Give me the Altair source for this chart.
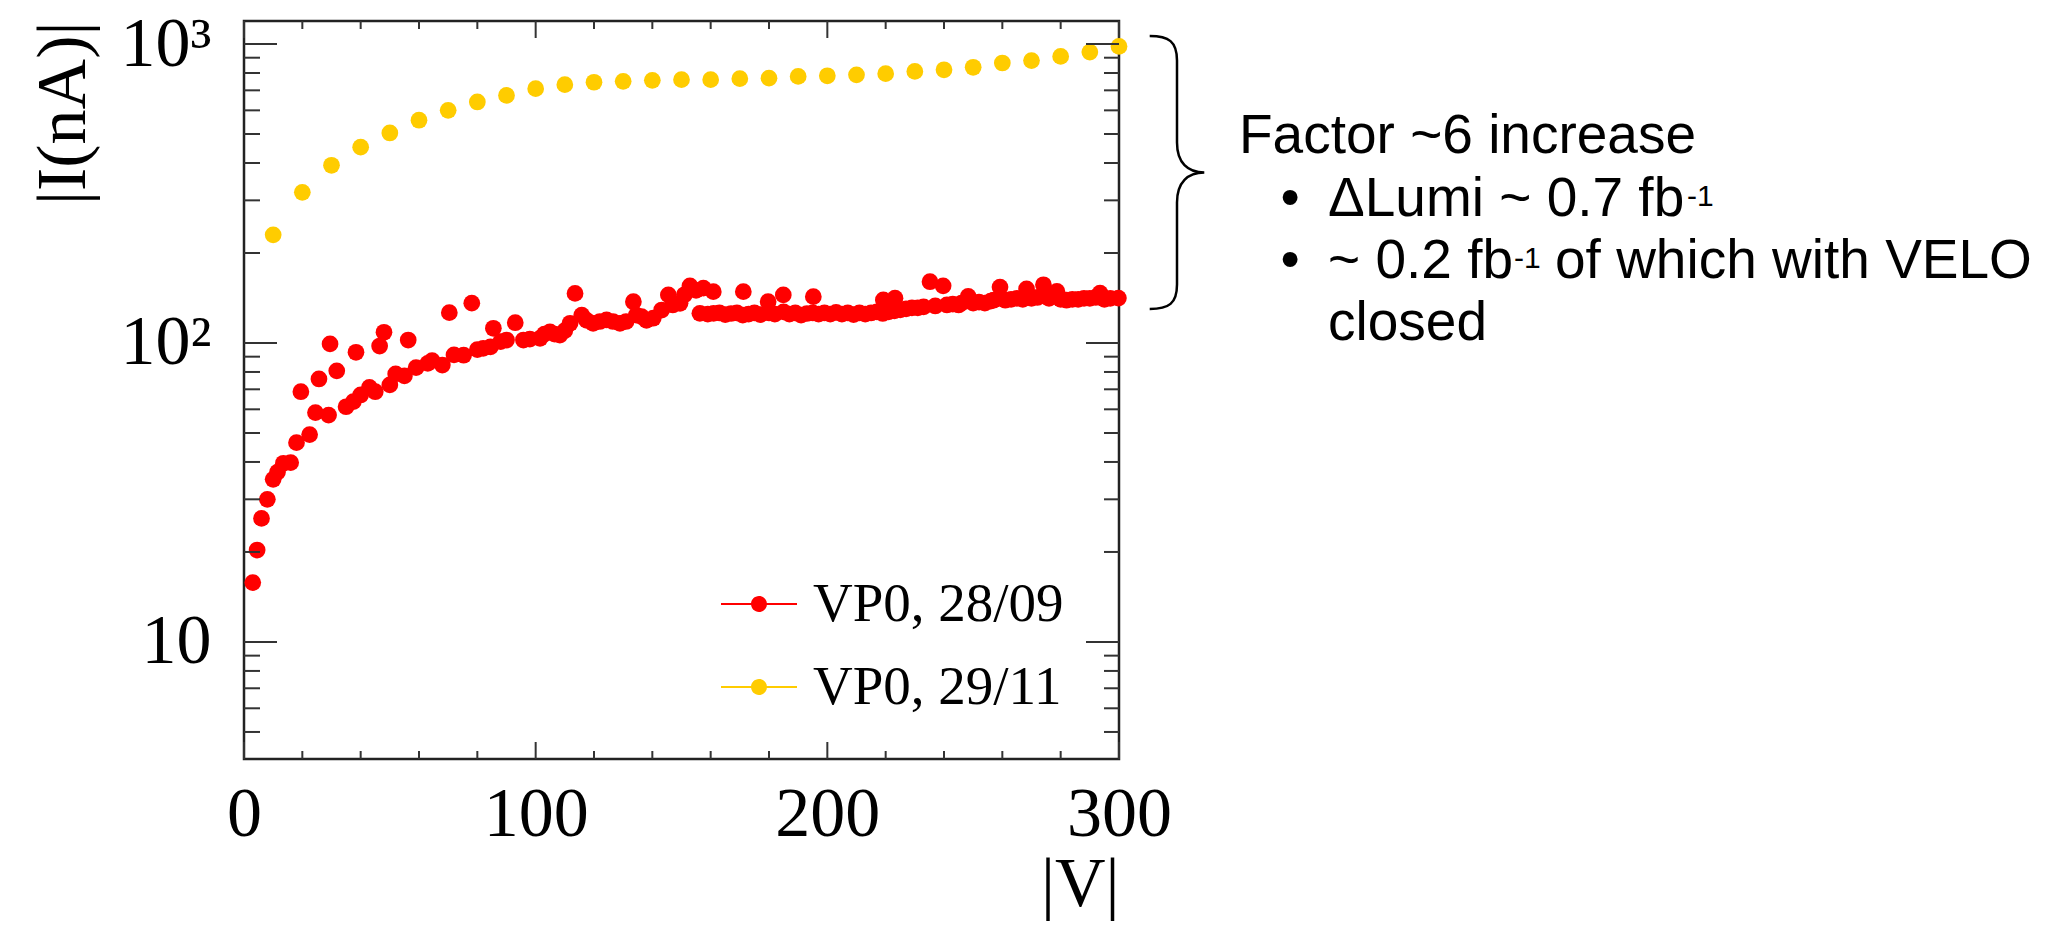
import altair as alt
import pandas as pd

# ---------------- data ----------------
series_names = ["VP0, 28/09", "VP0, 29/11"]
series_colors = ["#ff0000", "#ffcc00"]

yellow_v = [10, 20, 30, 40, 50, 60, 70, 80, 90, 100, 110, 120, 130, 140, 150,
            160, 170, 180, 190, 200, 210, 220, 230, 240, 250, 260, 270, 280, 290, 300]
yellow_i = [230, 319, 393, 452, 504, 556, 600, 640, 673, 709, 731, 745, 750, 756, 760,
            760, 766, 769, 779, 783, 789, 796, 810, 820, 836, 864, 880, 909, 940, 982]

red_v = [3, 4.5, 6, 8, 10, 11.5, 13.5, 16, 18, 19.5, 22.5, 24.5, 25.7, 29, 29.5, 31.8,
         35, 37.5, 38.4, 40, 43, 45, 46.5, 48, 50, 52, 55, 56.3, 59, 63, 64.5, 68, 70.4,
         72, 75.3, 78.1, 80, 82, 84.5, 85.5, 88, 90, 93, 95.8, 98, 101.5, 103, 104.9,
         106.5, 108.3, 110, 111.8, 113.5, 115.8, 117.5, 119.7, 122, 124.3, 126.5, 128.9,
         131, 133.5, 134.5, 136.3, 138, 140.3, 143.2, 145.5, 147, 149.5, 151, 152.9, 155,
         156.3, 157.5, 159, 160.9, 161, 163, 165, 167, 169, 171.2, 171, 173, 175, 177,
         179.7, 180, 182, 184.9, 185, 187, 189, 191, 193, 195.2, 195, 197, 199, 201, 203,
         205, 207, 209, 211, 213, 215, 217, 219.2, 219, 221, 223.2, 223, 225, 227, 229,
         231, 233, 235.2, 237, 239.7, 241, 243, 245, 246, 248.3, 250, 252, 254, 256, 257,
         259.2, 261, 263, 265, 267, 268.3, 270, 272, 274.1, 276, 278.7, 280, 282, 284,
         286, 288, 290, 292, 293.5, 295, 297, 299.8]
red_i = [15.8, 20.3, 25.9, 30, 35, 37, 39.6, 39.8, 46.4, 68.7, 49.4, 58.5, 75.8, 57.4, 99.3, 80.7,
         61.2, 63.7, 93.1, 67, 71, 68.7, 97.7, 108.6, 72.4, 78.8, 77.6, 102.3, 82.7, 85.5, 87.3, 84.4, 126.3,
         91.2, 91, 135.9, 95, 96, 97, 112, 101, 102.3, 116.9, 102.3, 103, 103.7, 107, 109,
         107, 106.3, 110, 116.4, 146.5, 124, 119, 116.4, 118, 119.4, 118, 116.4,
         118, 137.4, 124, 122.5, 119, 121, 128.9, 144.8, 134, 135.8, 145, 155.2, 150,
         125.7, 152.5, 125, 148.5, 125.7, 126, 124.5, 125.5, 126, 148.5, 124, 125, 126, 124.5,
         137.4, 126, 125, 144.8, 127, 125, 126, 124, 125.5, 142.9, 126, 125, 126, 125, 126.5,
         125, 126, 124.5, 126, 125, 126, 127, 139.3, 125.5, 127, 141.2, 128, 129, 130, 131,
         131, 132, 160.3, 133, 155.3, 134, 135, 134, 136, 143.2, 136, 137, 136, 138, 139,
         153.8, 139, 140, 141, 140, 151.6, 141, 142, 156.6, 141, 148.9, 140, 139, 140,
         140, 141, 141, 142, 146.8, 140, 141, 141.3]

x_major = [0, 100, 200, 300]
x_minor = [20, 40, 60, 80, 120, 140, 160, 180, 220, 240, 260, 280]
y_major = [10, 100, 1000]
y_minor = [5, 6, 7, 8, 9, 20, 30, 40, 50, 60, 70, 80, 90,
           200, 300, 400, 500, 600, 700, 800, 900]

x_title = "|V|"
y_title = "|I(nA)|"
note_head = "Factor ~6 increase"
note_b1 = "ΔLumi ~ 0.7 fb"
note_b2 = "~ 0.2 fb"
note_b2_tail = "of which with VELO"
note_b3 = "closed"
note_sup = "-1"
bullet = "•"

# ---------------- layout / style ----------------
W, H = 875, 738
SERIF = "Liberation Serif"
SANS = "Liberation Sans"
TICK_COLOR = "#333333"

xs = alt.Scale(domain=[0, 300], nice=False, zero=False)
ys = alt.Scale(type="log", domain=[4.06, 1194], nice=False)

x_axis = alt.Axis(
    values=x_major, format="d", grid=False, domain=False, ticks=False, tickSize=0,
    labelFont=SERIF, labelFontSize=70, labelColor="black", labelPadding=76,
    labelBaseline="alphabetic", labelFlush=False, labelOverlap=False, labelBound=False,
    title=x_title, titleFont=SERIF, titleFontSize=70, titleFontWeight="normal",
    titleColor="black", titleX=W, titleY=146, titleAlign="right",
    titleBaseline="alphabetic")

y_axis = alt.Axis(
    values=y_major, grid=False, domain=False, ticks=False, tickSize=0,
    labelExpr="datum.value == 10 ? '10' : datum.value == 100 ? '10²' : '10³'",
    labelFont=SERIF, labelFontSize=70, labelColor="black", labelPadding=33,
    labelBaseline="middle", labelAlign="right", labelOverlap=False, labelBound=False,
    labelFlush=False,
    title=y_title, titleFont=SERIF, titleFontSize=70, titleFontWeight="normal",
    titleColor="black", titleX=-160, titleY=0, titleAngle=-90, titleAlign="right",
    titleBaseline="alphabetic")

df = pd.DataFrame({
    "V": red_v + yellow_v,
    "I": red_i + yellow_i,
    "series": [series_names[0]] * len(red_v) + [series_names[1]] * len(yellow_v),
})

LEGEND_PATH = ("M-1,-0.025L1,-0.025L1,0.025L-1,0.025Z"
               "M0.21,0A0.21,0.21,0,1,1,-0.21,0A0.21,0.21,0,1,1,0.21,0Z")

points = alt.Chart(df).mark_circle(size=280, opacity=1).encode(
    x=alt.X("V:Q", scale=xs, axis=x_axis),
    y=alt.Y("I:Q", scale=ys, axis=y_axis),
    color=alt.Color("series:N", scale=alt.Scale(domain=series_names, range=series_colors),
                    legend=alt.Legend(
                        title=None, orient="none", legendX=477, legendY=545,
                        symbolType=LEGEND_PATH, symbolSize=5776, symbolStrokeWidth=0,
                        symbolOpacity=1, labelFont=SERIF, labelFontSize=55,
                        labelColor="black", labelOffset=16, rowPadding=17, padding=0,
                        labelLimit=0, labelBaseline="middle")),
)


def yticks(vals, x0, x1):
    return alt.Chart(pd.DataFrame({"V": [150] * len(vals), "I": vals})).mark_rule(
        color=TICK_COLOR, strokeWidth=2).encode(
        y=alt.Y("I:Q", scale=ys, axis=y_axis), x=alt.value(x0), x2=alt.value(x1))


def xticks(vals, y0, y1):
    return alt.Chart(pd.DataFrame({"V": vals})).mark_rule(
        color=TICK_COLOR, strokeWidth=2).encode(
        x=alt.X("V:Q", scale=xs, axis=x_axis), y=alt.value(y0), y2=alt.value(y1))


tick_layers = [
    yticks(y_major, 0, 33), yticks(y_minor, 0, 16),
    yticks(y_major, W, W - 33), yticks(y_minor, W, W - 15),
    xticks(x_major, H, H - 17), xticks(x_minor, H, H - 8),
    xticks(x_major, 0, 17), xticks(x_minor, 0, 8),
]

one = pd.DataFrame({"k": [0]})


def note(text, x, y, size=55, align="left"):
    return alt.Chart(one).mark_text(
        text=text, font=SANS, fontSize=size, color="black", align=align,
        baseline="alphabetic").encode(x=alt.value(x), y=alt.value(y))


BRACE = ("M-0.2,-1C-0.06,-1,0,-0.96,0,-0.82L0,-0.22C0,-0.07,0.08,0,0.2,0"
         "C0.08,0,0,0.07,0,0.22L0,0.82C0,0.96,-0.06,1,-0.2,1")
brace = alt.Chart(one).mark_point(
    shape=BRACE, size=74529, filled=False, stroke="black", strokeWidth=2.5,
    opacity=1).encode(x=alt.value(933), y=alt.value(151.5))

notes = [
    note(note_head, 995, 132),
    note(bullet, 1046, 195, align="center"),
    note(note_b1, 1084, 195),
    note(note_sup, 1443, 185, size=30),
    note(bullet, 1046, 257, align="center"),
    note(note_b2, 1084, 257),
    note(note_sup, 1270, 247, size=30),
    note(note_b2_tail, 1311, 257),
    note(note_b3, 1084, 319),
]

chart = alt.layer(points, *tick_layers, brace, *notes).properties(
    width=W, height=H,
    autosize=alt.AutoSizeParams(type="none"),
    padding={"left": 244, "top": 21, "right": 921, "bottom": 162},
    background="white",
).configure_view(stroke="#222222", strokeWidth=2.5)

chart.save("out.html", embed_options={"renderer": "svg", "actions": False})
